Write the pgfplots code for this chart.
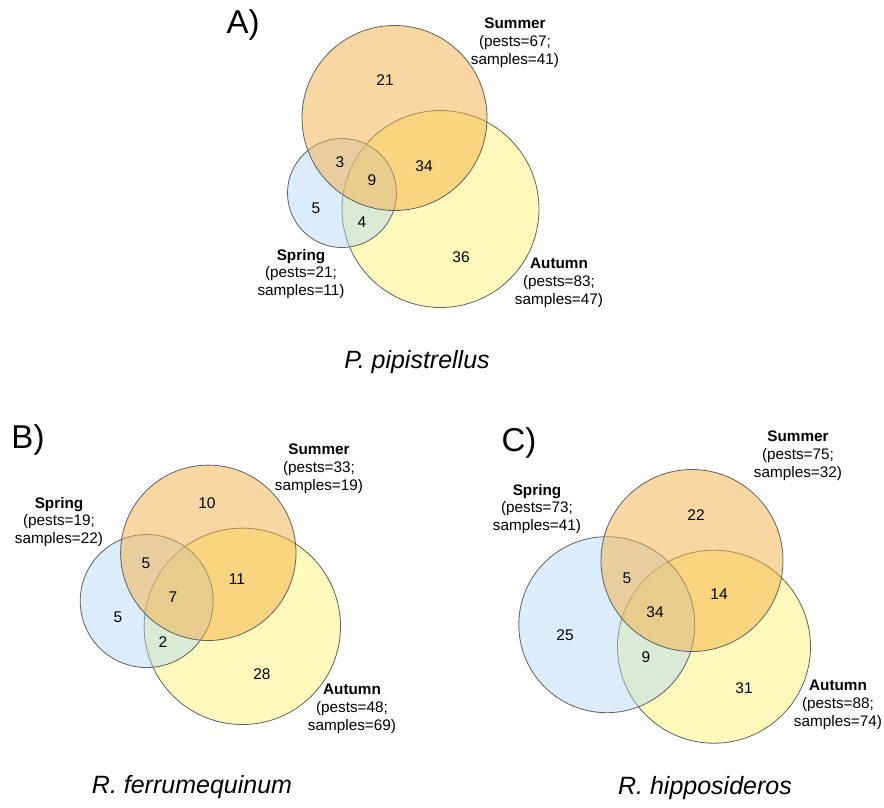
\documentclass[border=0pt]{standalone}
\usepackage{pgfplots}
\pgfplotsset{compat=1.18}
\usepackage{fontspec}
\setmainfont{Liberation Sans}

\definecolor{springc}{RGB}{176,216,245}
\definecolor{summerc}{RGB}{244,176,70}
\definecolor{autumnc}{RGB}{255,245,120}
\definecolor{edgec}{RGB}{95,95,95}

% circle: x, y (pixel coords, y downwards), radius
\newcommand{\venncircle}[4]{%
  \draw[edgec, line width=0.8pt, fill=#1, fill opacity=#2]
    (axis cs:#3) circle[radius=#4];}
\newcommand{\setlabel}[4]{%
  \node[align=center, inner sep=0pt, font=\fontsize{15.3}{17.8}\selectfont]
    at (axis cs:#1) {\textbf{#2}\\(pests=#3;\\samples=#4)};}
\newcommand{\cnt}[2]{%
  \node[inner sep=0pt, font=\fontsize{15.5}{18}\selectfont] at (axis cs:#1) {#2};}

\begin{document}
\begin{tikzpicture}
\begin{axis}[
    width=884pt, height=807pt,
    scale only axis,
    xmin=0, xmax=884,
    ymin=0, ymax=807,
    y dir=reverse,
    hide axis,
    clip=false,
]

% ---- A) P. pipistrellus
\venncircle{autumnc}{0.5}{440.5,209}{98.5}
\venncircle{springc}{0.45}{342,193}{54.5}
\venncircle{summerc}{0.5}{394.5,118}{92.5}
\node[font=\fontsize{33}{33}\selectfont] at (axis cs:243,25) {A)};
\setlabel{515,43}{Summer}{67}{41}
\setlabel{301,274}{Spring}{21}{11}
\setlabel{559,283}{Autumn}{83}{47}
\cnt{385,80}{21}
\cnt{340,162}{3}
\cnt{372,180}{9}
\cnt{424,166}{34}
\cnt{316,208}{5}
\cnt{362,222}{4}
\cnt{461,257}{36}
\node[font=\fontsize{25}{25}\selectfont\itshape] at (axis cs:417,362) {P. pipistrellus};

% ---- B) R. ferrumequinum
\venncircle{autumnc}{0.5}{242.3,626.3}{98.2}
\venncircle{springc}{0.45}{146.7,601}{66.5}
\venncircle{summerc}{0.5}{208.3,552.8}{87.7}
\node[font=\fontsize{33}{33}\selectfont] at (axis cs:28,440) {B)};
\setlabel{319,469}{Summer}{33}{19}
\setlabel{59,522}{Spring}{19}{22}
\setlabel{352,709}{Autumn}{48}{69}
\cnt{207,503}{10}
\cnt{146,563}{5}
\cnt{173,597}{7}
\cnt{237,579}{11}
\cnt{118,617}{5}
\cnt{163,642}{2}
\cnt{262,674}{28}
\node[font=\fontsize{25}{25}\selectfont\itshape] at (axis cs:192,787) {R. ferrumequinum};

% ---- C) R. hipposideros
\venncircle{autumnc}{0.5}{714,646.7}{96.5}
\venncircle{springc}{0.45}{606.8,624.7}{88}
\venncircle{summerc}{0.5}{692,560.5}{91}
\node[font=\fontsize{33}{33}\selectfont] at (axis cs:519,443) {C)};
\setlabel{798,456}{Summer}{75}{32}
\setlabel{537,509}{Spring}{73}{41}
\setlabel{838,705}{Autumn}{88}{74}
\cnt{696,515}{22}
\cnt{627,578}{5}
\cnt{655,612}{34}
\cnt{719,594}{14}
\cnt{565,635}{25}
\cnt{646,657}{9}
\cnt{744,688}{31}
\node[font=\fontsize{25}{25}\selectfont\itshape] at (axis cs:705,788) {R. hipposideros};

\end{axis}
\pgfresetboundingbox
\path (0,0) rectangle (884pt,807pt);
\end{tikzpicture}
\end{document}
